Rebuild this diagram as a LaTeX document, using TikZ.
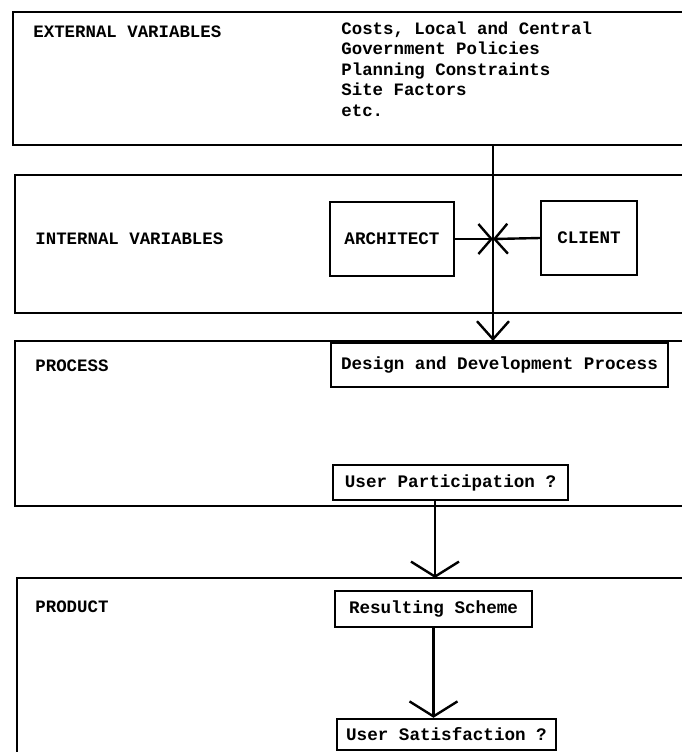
\documentclass[tikz,border=0pt]{standalone}
\usepackage{fontspec}
\setmonofont{Liberation Mono}
\usetikzlibrary{arrows.meta}
\pgfdeclarelayer{edgelayer}
\pgfdeclarelayer{nodelayer}
\pgfsetlayers{edgelayer,nodelayer,main}
\tikzstyle{band}=[draw=black, line width=1.3pt]
\tikzstyle{tag}=[anchor=west, inner sep=0pt, font=\ttfamily\bfseries\fontsize{8.7}{10.25}\selectfont]
\tikzstyle{box}=[rectangle, draw=black, line width=1.2pt, inner sep=0pt, font=\ttfamily\bfseries\fontsize{8.8}{10.25}\selectfont]
\tikzstyle{arrow}=[-{Straight Barb[length=9pt,width=16pt]}, draw=black, line width=1.2pt]
\tikzstyle{meet}=[-{Straight Barb[length=6.5pt,width=15pt]}, draw=black, line width=1.2pt]
\tikzstyle{wide}=[-{Straight Barb[length=7.5pt,width=24pt]}, draw=black, line width=1.2pt]

\begin{document}
\begin{tikzpicture}[x=0.5pt, y=-0.5pt]
            \useasboundingbox (0,0) rectangle (682,752);
            \begin{pgfonlayer}{nodelayer}
                \node [style=tag] (ext) at (33,32) {EXTERNAL VARIABLES};
                \node [style=tag, anchor=north west, align=left] (extlist) at (341,21) {Costs, Local and Central\\Government Policies\\Planning Constraints\\Site Factors\\etc.};
                \node [style=tag] (int) at (35,239) {INTERNAL VARIABLES};
                \node [style=tag] (proc) at (35,366) {PROCESS};
                \node [style=tag] (prod) at (35,607) {PRODUCT};
                \node [style=box, minimum width=62pt, minimum height=37pt] (arch) at (392,239) {ARCHITECT};
                \node [style=box, minimum width=48pt, minimum height=37pt] (client) at (589,238) {CLIENT};
                \node [style=box, minimum width=168.5pt, minimum height=22pt] (design) at (499.5,365) {Design and Development Process};
                \node [style=box, minimum width=117.5pt, minimum height=17.5pt] (userpart) at (450.5,482.5) {User Participation ?};
                \node [style=box, minimum width=98.5pt, minimum height=18pt] (scheme) at (433.5,609) {Resulting Scheme};
                \node [style=box, minimum width=109.5pt, minimum height=15.5pt] (usersat) at (446.5,734.5) {User Satisfaction ?};
                \coordinate (extout) at (493,145);
                \coordinate (procin) at (493,341);
                \coordinate (cross) at (493,239);
                \coordinate (prodin) at (435,578);
            \end{pgfonlayer}
            \begin{pgfonlayer}{edgelayer}
                \draw [style=band] (682,12) -- (13,12) -- (13,145) -- (682,145);
                \draw [style=band] (682,175) -- (15,175) -- (15,313) -- (682,313);
                \draw [style=band] (682,341) -- (15,341) -- (15,506) -- (682,506);
                \draw [style=band] (682,578) -- (17,578) -- (17,752);
                \draw [style=arrow] (extout) to (procin);
                \draw [style=meet] (arch.east) to (cross);
                \draw [style=meet] (client.west) to (cross);
                \draw [style=wide] (userpart.south -| prodin) to (prodin);
                \draw [style=wide] (scheme.south) to (scheme.south |- usersat.north);
            \end{pgfonlayer}
        \end{tikzpicture}
\end{document}
